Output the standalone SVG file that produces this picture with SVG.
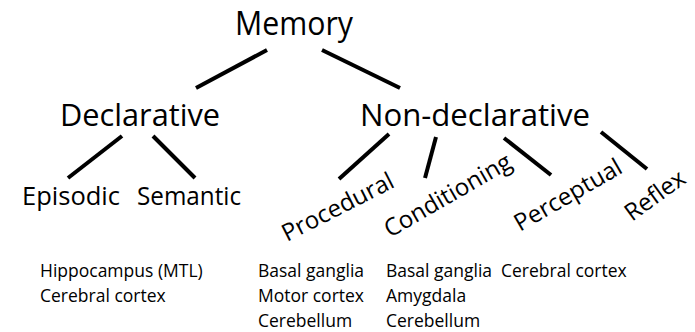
<svg xmlns="http://www.w3.org/2000/svg" width="695" height="332" viewBox="0 0 695 332">
<style>
text{font-family:"Open Sans","DejaVu Sans",sans-serif;fill:#000}
.l0{font-size:33px}
.l1{font-size:31.5px}
.l2{font-size:25px}
.l3{font-size:24px}
.s{font-size:17.5px}
#connectors line{stroke:#000;stroke-width:4}
</style>
<rect width="695" height="332" fill="#fff"/>
<g id="connectors">
<line x1="267" y1="50" x2="196" y2="88"/>
<line x1="322" y1="50" x2="400" y2="88"/>
<line x1="122" y1="136" x2="68" y2="178"/>
<line x1="153" y1="136" x2="195" y2="178"/>
<line x1="389" y1="134" x2="339" y2="179"/>
<line x1="436" y1="137" x2="425" y2="178"/>
<line x1="504" y1="138" x2="551" y2="175"/>
<line x1="601" y1="132" x2="647" y2="169"/>
</g>
<g id="memory"><text class="l0" x="235" y="35" textLength="118" lengthAdjust="spacingAndGlyphs">Memory</text></g>
<g id="declarative"><text class="l1" x="60" y="126" textLength="160" lengthAdjust="spacingAndGlyphs">Declarative</text></g>
<g id="nondeclarative"><text class="l1" x="360" y="126" textLength="230" lengthAdjust="spacingAndGlyphs">Non-declarative</text></g>
<g id="episodic"><text class="l2" x="22" y="205" textLength="98" lengthAdjust="spacingAndGlyphs">Episodic</text></g>
<g id="semantic"><text class="l2" x="137" y="205" textLength="104" lengthAdjust="spacingAndGlyphs">Semantic</text></g>
<g id="procedural"><text class="l3" transform="translate(287,242) rotate(-27)">Procedural</text></g>
<g id="conditioning"><text class="l3" transform="translate(390,238) rotate(-30)">Conditioning</text></g>
<g id="perceptual"><text class="l3" transform="translate(520,232) rotate(-30)">Perceptual</text></g>
<g id="reflex"><text class="l3" transform="translate(632,222) rotate(-36)">Reflex</text></g>
<g id="regions-declarative"><text class="s" x="40" y="277">Hippocampus (MTL)</text><text class="s" x="40" y="302">Cerebral cortex</text></g>
<g id="regions-procedural"><text class="s" x="258" y="277">Basal ganglia</text><text class="s" x="258" y="302">Motor cortex</text><text class="s" x="258" y="327">Cerebellum</text></g>
<g id="regions-conditioning"><text class="s" x="386" y="277">Basal ganglia</text><text class="s" x="386" y="302">Amygdala</text><text class="s" x="386" y="327">Cerebellum</text></g>
<g id="regions-perceptual"><text class="s" x="501" y="277">Cerebral cortex</text></g>
</svg>
